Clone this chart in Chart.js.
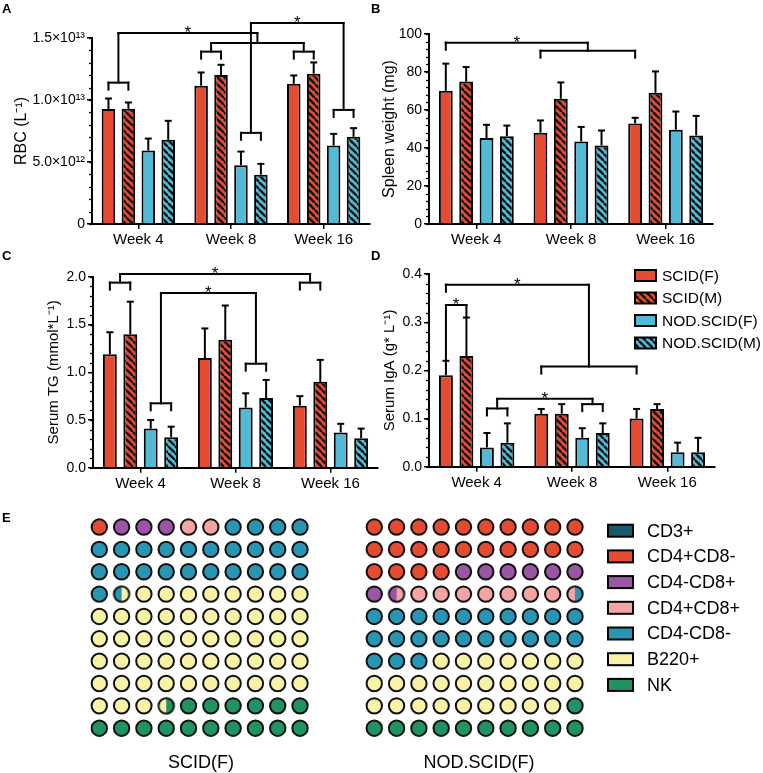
<!DOCTYPE html>
<html><head><meta charset="utf-8">
<script src="https://cdn.jsdelivr.net/npm/chart.js@4.4.1/dist/chart.umd.min.js"></script>
<style>
html,body{margin:0;padding:0;background:#fff;}
#wrap{position:relative;width:763px;height:773px;overflow:hidden;font-family:"Liberation Sans",Arial,sans-serif;color:#000;}
canvas{position:absolute;}
.lbl{position:absolute;font-weight:bold;font-size:13px;line-height:13px;}
.grp{position:absolute;font-size:18px;line-height:18px;transform:translate(-50%,-50%);white-space:nowrap;}
</style></head><body>
<div id="wrap">
<canvas id="cA" width="380" height="262" style="left:0;top:0"></canvas>
<canvas id="cB" width="383" height="262" style="left:380px;top:0"></canvas>
<canvas id="cC" width="380" height="252" style="left:0;top:250px"></canvas>
<canvas id="cD" width="383" height="252" style="left:380px;top:250px"></canvas>
<canvas id="cE" width="763" height="273" style="left:0;top:495px"></canvas>
<div class="lbl" style="left:2px;top:2px">A</div>
<div class="lbl" style="left:371px;top:2px">B</div>
<div class="lbl" style="left:2px;top:249px">C</div>
<div class="lbl" style="left:371px;top:249px">D</div>
<div class="lbl" style="left:2px;top:511px">E</div>
<div class="grp" style="left:201px;top:762px">SCID(F)</div>
<div class="grp" style="left:479px;top:762px">NOD.SCID(F)</div>
</div>
<script>
// ---------------- DATA ----------------
const weeks = ['Week 4', 'Week 8', 'Week 16'];
const groupNames = ['SCID(F)', 'SCID(M)', 'NOD.SCID(F)', 'NOD.SCID(M)'];

// A: RBC (x10^12 per L), mean and upper error
const rbcScidF = [9.27, 11.15, 11.31];   const rbcScidFErr = [0.85, 1.07, 0.67];
const rbcScidM = [9.29, 12.01, 12.12];   const rbcScidMErr = [0.51, 0.83, 0.91];
const rbcNodF  = [5.92, 4.74, 6.33];     const rbcNodFErr  = [0.97, 1.10, 0.94];
const rbcNodM  = [6.79, 3.98, 7.03];     const rbcNodMErr  = [1.53, 0.87, 0.70];
const rbcTickLabels = ['0', '5.0×10¹²', '1.0×10¹³', '1.5×10¹³'];

// B: Spleen weight (mg)
const spScidF = [70.1, 48.0, 52.9];  const spScidFErr = [14.3, 6.5, 3.0];
const spScidM = [75.0, 65.9, 69.1];  const spScidMErr = [7.6, 8.6, 11.2];
const spNodF  = [45.2, 43.4, 49.6];  const spNodFErr  = [7.0, 7.7, 9.6];
const spNodM  = [46.2, 41.3, 46.6];  const spNodMErr  = [5.6, 7.9, 10.3];

// C: Serum TG (mmol/L)
const tgScidF = [1.19, 1.15, 0.65];  const tgScidFErr = [0.23, 0.31, 0.10];
const tgScidM = [1.40, 1.34, 0.90];  const tgScidMErr = [0.34, 0.36, 0.23];
const tgNodF  = [0.41, 0.63, 0.37];  const tgNodFErr  = [0.09, 0.15, 0.09];
const tgNodM  = [0.32, 0.73, 0.31];  const tgNodMErr  = [0.11, 0.19, 0.10];

// D: Serum IgA (g/L)
const igaScidF = [0.19, 0.11, 0.10]; const igaScidFErr = [0.03, 0.01, 0.02];
const igaScidM = [0.23, 0.11, 0.12]; const igaScidMErr = [0.08, 0.02, 0.01];
const igaNodF  = [0.04, 0.06, 0.03]; const igaNodFErr  = [0.03, 0.02, 0.02];
const igaNodM  = [0.05, 0.07, 0.03]; const igaNodMErr  = [0.04, 0.02, 0.03];

// E: cell composition (% of 100 dots)
const cellTypes = ['CD3+', 'CD4+CD8-', 'CD4-CD8+', 'CD4+CD8+', 'CD4-CD8-', 'B220+', 'NK'];
const scidFPct    = [0, 1, 3, 2, 25.5, 52, 16.5];
const nodScidFPct = [0, 24, 7.5, 8, 23.5, 26, 11];

// ---------------- STYLE ----------------
Chart.defaults.font.family = '"Liberation Sans", Arial, Helvetica, sans-serif';
Chart.defaults.color = '#000';
const RED = '#e54b31', BLUE = '#52b9d7';
const cellColors = ['#175a6e', '#e54b31', '#9b55a5', '#f4a5a3', '#2896b2', '#f8f2a6', '#1f9462'];

function hatch(color) {
  const s = 7, c = document.createElement('canvas'); c.width = s; c.height = s;
  const x = c.getContext('2d');
  x.fillStyle = color; x.fillRect(0, 0, s, s);
  x.strokeStyle = '#111'; x.lineWidth = 2.3;
  for (const k of [-s, 0, s]) { x.beginPath(); x.moveTo(k, 0); x.lineTo(k + s, s); x.stroke(); }
  return x.createPattern(c, 'repeat');
}
const fills = [RED, hatch(RED), BLUE, hatch(BLUE)];

function leaf(bars, y, extra) { return Object.assign({bars, y}, extra || {}); }
function join(l, r, y, star) { return {l, r, y, star}; }

function makePlugins(errs, minorStep, trees, legend) {
  return [{
    id: 'extras',
    afterDatasetsDraw(chart) {
      const ctx = chart.ctx, ys = chart.scales.y, yp = v => ys.getPixelForValue(v);
      const area = chart.chartArea;
      ctx.save();
      ctx.strokeStyle = '#000'; ctx.lineWidth = 2; ctx.lineCap = 'butt';
      const line = (x1, y1, x2, y2) => { ctx.beginPath(); ctx.moveTo(x1, y1); ctx.lineTo(x2, y2); ctx.stroke(); };
      // error bars
      errs.forEach((arr, s) => {
        const meta = chart.getDatasetMeta(s);
        meta.data.forEach((bar, g) => {
          const v = chart.data.datasets[s].data[g];
          const y0 = yp(v), y1 = yp(v + arr[g]);
          line(bar.x, y0, bar.x, y1);
          line(bar.x - 3.5, y1, bar.x + 3.5, y1);
        });
      });
      // minor ticks
      ctx.lineWidth = 1.3;
      for (let v = ys.min; v <= ys.max + 1e-9; v += minorStep) {
        const y = Math.round(yp(v)) + 0.5;
        line(area.left - 3, y, area.left, y);
      }
      // brackets
      ctx.lineWidth = 2; ctx.lineCap = 'square';
      const bx = (g, s) => chart.getDatasetMeta(s).data[g].x;
      const star = (x, y) => {
        ctx.fillStyle = '#000'; ctx.font = '17px "Liberation Sans", Arial';
        ctx.textAlign = 'center'; ctx.textBaseline = 'alphabetic'; ctx.fillText('*', x, y + 5);
      };
      const draw = n => {
        if (n.bars) {
          const xs = n.bars.map(b => bx(b[0], b[1])), y = yp(n.y);
          if (xs.length > 1) line(xs[0], y, xs[xs.length - 1], y);
          xs.forEach((x, i) => line(x, y, x, n.ends ? yp(n.ends[i]) : y + 7));
          const cx = (xs[0] + xs[xs.length - 1]) / 2;
          if (n.star) star(cx, y);
          return {x: cx, y};
        }
        const l = draw(n.l), r = draw(n.r), y = yp(n.y);
        line(l.x, l.y, l.x, y); line(r.x, r.y, r.x, y); line(l.x, y, r.x, y);
        const cx = (l.x + r.x) / 2;
        if (n.star) star(cx, y);
        return {x: cx, y};
      };
      trees.forEach(draw);
      // legend
      if (legend) {
        ctx.lineCap = 'butt';
        groupNames.forEach((name, i) => {
          const cy = 25.5 + i * 22.5;
          ctx.fillStyle = fills[i]; ctx.fillRect(255, cy - 5.5, 21, 11);
          ctx.strokeStyle = '#000'; ctx.lineWidth = 2; ctx.strokeRect(255, cy - 5.5, 21, 11);
          ctx.fillStyle = '#000'; ctx.font = '15.5px "Liberation Sans", Arial';
          ctx.textAlign = 'left'; ctx.textBaseline = 'middle'; ctx.fillText(name, 282, cy + 1);
        });
      }
      ctx.restore();
    }
  }];
}

function barChart(id, o) {
  new Chart(document.getElementById(id), {
    type: 'bar',
    data: {
      labels: weeks,
      datasets: o.data.map((d, i) => ({
        label: groupNames[i], data: d, backgroundColor: fills[i],
        borderColor: '#000', borderWidth: 2, borderSkipped: 'start',
        categoryPercentage: 0.86, barPercentage: 0.68
      }))
    },
    options: {
      responsive: false, animation: false,
      layout: {padding: o.pad},
      plugins: {legend: {display: false}, tooltip: {enabled: false}},
      scales: {
        x: {
          grid: {display: true, drawOnChartArea: false, drawTicks: true, tickLength: 5, color: '#000', lineWidth: 1.5, offset: false},
          border: {display: true, color: '#000', width: 2},
          ticks: {font: {size: 15}, color: '#000', padding: 2, maxRotation: 0},
          afterFit: s => { s.height = 30; }
        },
        y: {
          min: o.min, max: o.max,
          grid: {display: true, drawOnChartArea: false, drawTicks: true, tickLength: 5, color: '#000', lineWidth: 1.5},
          border: {display: true, color: '#000', width: 2},
          ticks: {stepSize: o.step, font: {size: 14}, color: '#000', padding: 2, callback: o.tickCb},
          title: {display: true, text: o.title, font: {size: o.titleSize}, color: '#000', padding: {top: 0, bottom: 0}},
          afterFit: s => { s.width = o.yWidth; }
        }
      }
    },
    plugins: makePlugins(o.errs, o.minor, o.trees, o.legend)
  });
}

barChart('cA', {
  data: [rbcScidF, rbcScidM, rbcNodF, rbcNodM], errs: [rbcScidFErr, rbcScidMErr, rbcNodFErr, rbcNodMErr],
  min: 0, max: 15, step: 5, minor: 1, tickCb: (v, i) => rbcTickLabels[i],
  title: 'RBC (L⁻¹)', titleSize: 16, yWidth: 79.6,
  pad: {left: 12.4, right: 10, top: 38, bottom: 8},
  trees: [
    join(leaf([[0, 0], [0, 1]], 11.4), join(leaf([[1, 0], [1, 1]], 13.9), leaf([[2, 0], [2, 1]], 13.9), 14.6), 15.4, true),
    join(leaf([[1, 2], [1, 3]], 7.35), leaf([[2, 2], [2, 3]], 9.2), 16.2, true)
  ]
});

barChart('cB', {
  data: [spScidF, spScidM, spNodF, spNodM], errs: [spScidFErr, spScidMErr, spNodFErr, spNodMErr],
  min: 0, max: 100, step: 20, minor: 4, tickCb: v => String(v),
  title: 'Spleen weight (mg)', titleSize: 16, yWidth: 48.6,
  pad: {left: 0.4, right: 50, top: 34, bottom: 8},
  trees: [
    join(leaf([[0, 0]], 95.4), leaf([[1, 0], [2, 0]], 91.2), 95.4, true)
  ]
});

barChart('cC', {
  data: [tgScidF, tgScidM, tgNodF, tgNodM], errs: [tgScidFErr, tgScidMErr, tgNodFErr, tgNodMErr],
  min: 0, max: 2, step: 0.5, minor: 0.1, tickCb: v => v.toFixed(1),
  title: 'Serum TG (mmol*L⁻¹)', titleSize: 15, yWidth: 48,
  pad: {left: 45, right: 2, top: 26.9, bottom: 4.3},
  trees: [
    join(leaf([[0, 0], [0, 1]], 1.94), leaf([[2, 0], [2, 1]], 1.94), 2.03, true),
    join(leaf([[0, 2], [0, 3]], 0.675), leaf([[1, 2], [1, 3]], 1.09), 1.83, true)
  ]
});

barChart('cD', {
  data: [igaScidF, igaScidM, igaNodF, igaNodM], errs: [igaScidFErr, igaScidMErr, igaNodFErr, igaNodMErr],
  min: 0, max: 0.4, step: 0.1, minor: 0.02, tickCb: v => v.toFixed(1),
  title: 'Serum IgA (g* L⁻¹)', titleSize: 15, yWidth: 48.6,
  pad: {left: 0.4, right: 48, top: 24.2, bottom: 5.3},
  legend: true,
  trees: [
    join(leaf([[0, 0]], 0.378), leaf([[1, 0], [2, 0]], 0.208), 0.378, true),
    leaf([[0, 0], [0, 1]], 0.336, {ends: [0.222, 0.312], star: true}),
    join(leaf([[0, 2], [0, 3]], 0.121), leaf([[1, 2], [1, 3]], 0.13), 0.141, true)
  ]
});

// ---------------- Panel E ----------------
function buildCells(pcts, xOffset) {
  const halves = [];
  pcts.forEach((p, t) => { for (let k = 0; k < Math.round(p * 2); k++) halves.push(t); });
  const cells = [];
  for (let i = 0; i < 100; i++) {
    cells.push({x: (i % 10) + xOffset, y: Math.floor(i / 10), a: halves[2 * i], b: halves[2 * i + 1]});
  }
  return cells;
}
const allCells = buildCells(scidFPct, 0).concat(buildCells(nodScidFPct, 12.33));
function splitImg(a, b) {
  const c = document.createElement('canvas'); c.width = 22; c.height = 22;
  const x = c.getContext('2d');
  x.fillStyle = cellColors[a]; x.beginPath(); x.arc(11, 11, 7.7, Math.PI / 2, Math.PI * 1.5); x.closePath(); x.fill();
  x.fillStyle = cellColors[b]; x.beginPath(); x.arc(11, 11, 7.7, -Math.PI / 2, Math.PI / 2); x.closePath(); x.fill();
  x.strokeStyle = '#111'; x.lineWidth = 2; x.beginPath(); x.arc(11, 11, 7.7, 0, Math.PI * 2); x.stroke();
  return c;
}
const eDatasets = cellTypes.map((t, i) => ({
  label: t,
  data: allCells.filter(c => c.a === i && c.b === i).map(c => ({x: c.x, y: c.y})),
  backgroundColor: cellColors[i], borderColor: '#111', borderWidth: 2,
  pointRadius: 7.7, pointBorderWidth: 2, pointBackgroundColor: cellColors[i], pointBorderColor: '#111'
}));
const splitCells = allCells.filter(c => c.a !== c.b);
const splitImgs = splitCells.map(c => splitImg(c.a, c.b));
eDatasets.push({
  label: 'split', data: splitCells.map(c => ({x: c.x, y: c.y})),
  pointRadius: 7.7, pointStyle: ctx => (ctx.dataIndex !== undefined ? splitImgs[ctx.dataIndex] : 'circle')
});

new Chart(document.getElementById('cE'), {
  type: 'scatter',
  data: {datasets: eDatasets},
  options: {
    responsive: false, animation: false,
    layout: {padding: {left: 77, right: 165.7, top: 7.45, bottom: 17.45}},
    scales: {
      x: {type: 'linear', min: -1, max: 22.33, display: false},
      y: {type: 'linear', min: -1, max: 10, reverse: true, display: false}
    },
    plugins: {legend: {display: false}, tooltip: {enabled: false}}
  },
  plugins: [{
    id: 'eLegend',
    afterDraw(chart) {
      const ctx = chart.ctx;
      ctx.save();
      cellTypes.forEach((t, i) => {
        const cy = 35.7 + i * 25.7;
        ctx.fillStyle = cellColors[i]; ctx.fillRect(608, cy - 6, 25, 12);
        ctx.strokeStyle = '#000'; ctx.lineWidth = 2; ctx.strokeRect(608, cy - 6, 25, 12);
        ctx.fillStyle = '#000'; ctx.font = '18px "Liberation Sans", Arial';
        ctx.textAlign = 'left'; ctx.textBaseline = 'middle'; ctx.fillText(t, 647, cy + 1);
      });
      ctx.restore();
    }
  }]
});
</script>
</body></html>
